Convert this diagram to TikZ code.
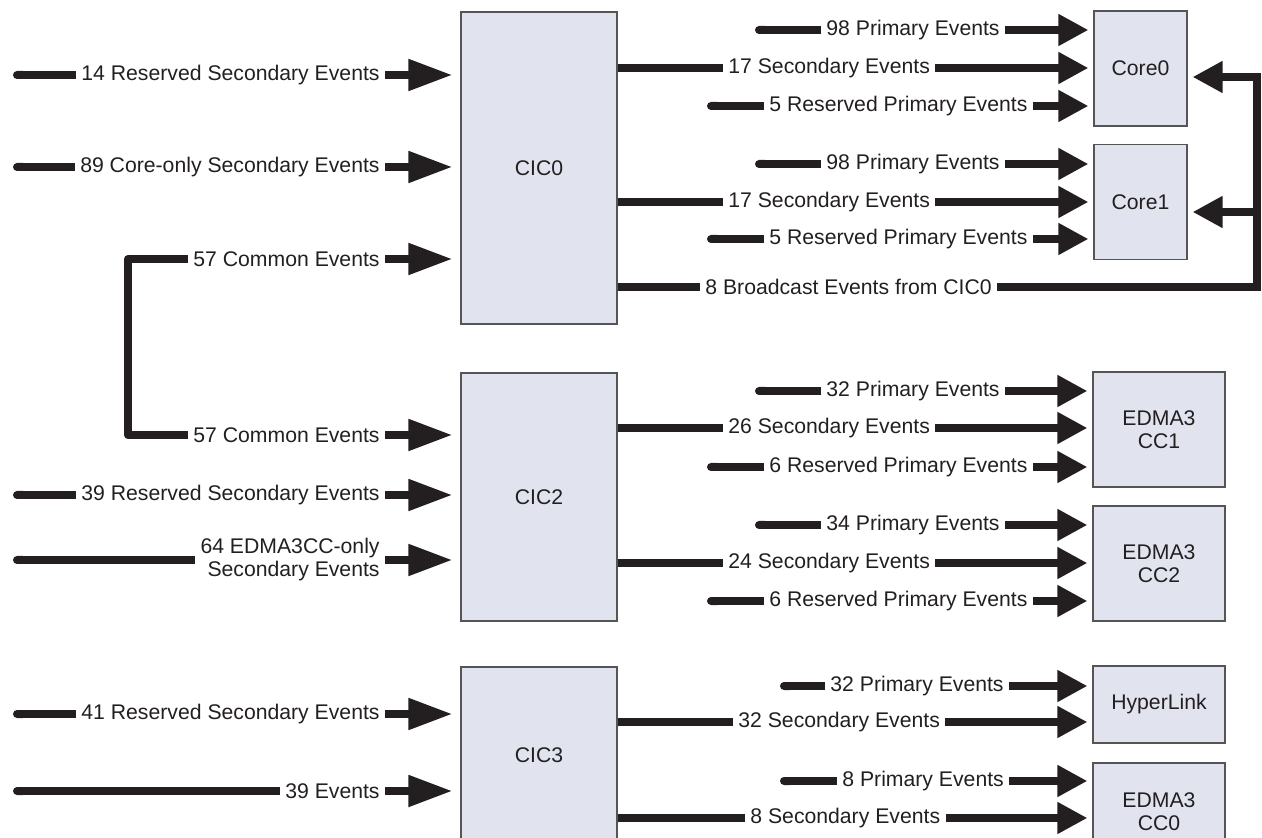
\documentclass[tikz,border=0pt]{standalone}
\usepackage{fontspec}
\setmainfont{Liberation Sans}
\usetikzlibrary{arrows.meta, positioning, calc}
\definecolor{ink}{RGB}{35,31,32}
\definecolor{blkfill}{RGB}{225,228,239}
\definecolor{blkline}{RGB}{85,85,85}

\begin{document}
\begin{tikzpicture}[x=0.5pt, y=-0.5pt,
    every node/.style={font=\fontsize{10.6}{11.5}\selectfont, text=ink},
    blk/.style={draw=blkline, fill=blkfill, line width=0.6pt, align=center, inner sep=0pt},
    lbl/.style={inner xsep=2.5pt, inner ysep=0pt, align=right},
    wire/.style={draw=ink, line width=4pt, line join=round},
    feed/.style={wire, -{Round Cap[]}},
    inarr/.style={wire, -{Triangle[length=22pt, width=15pt]}, shorten >=4pt},
    outarr/.style={wire, -{Triangle[length=15pt, width=15pt]}, shorten >=2.5pt}]

    \useasboundingbox (0,0) rectangle (1262,838);
    \clip (0,0) rectangle (1262,838);

    % columns where the free lines start
    \coordinate (edge) at (13,0);
    \coordinate (bend) at (128,0);
    \coordinate (colR) at (707,0);
    \coordinate (colP) at (755,0);
    \coordinate (colH) at (780,0);
    \coordinate (b0) at (1257,77);
    \coordinate (b1) at (1257,212);

    % Controllers
    \node[blk, minimum width=78pt, minimum height=156pt] (cic0) at (539,168) {CIC0};
    \node[blk, minimum width=78pt, minimum height=124pt] (cic2) at (539,497) {CIC2};
    \node[blk, minimum width=78pt, minimum height=88pt] (cic3) at (539,755) {CIC3};

    % Targets
    \node[blk, minimum width=46.5pt, minimum height=57.5pt] (core0) at (1140.5,68.5) {Core0};
    \node[blk, minimum width=46.5pt, minimum height=57.5pt] (core1) at (1140.5,202) {Core1};
    \node[blk, minimum width=66pt, minimum height=57.5pt] (cc1) at (1159,429.5) {EDMA3\\CC1};
    \node[blk, minimum width=66pt, minimum height=57.5pt] (cc2) at (1159,563.5) {EDMA3\\CC2};
    \node[blk, minimum width=66pt, minimum height=38.5pt] (hyper) at (1159,704.5) {HyperLink};
    \node[blk, minimum width=66pt, minimum height=49pt] (cc0) at (1159,812) {EDMA3\\CC0};

    % Inputs to CIC0
    \node[lbl, anchor=east] (r14) at (385,75) {14 Reserved Secondary Events};
    \node[lbl, anchor=east] (c89) at (385,167) {89 Core-only Secondary Events};
    \node[lbl, anchor=east] (c57a) at (385,259) {57 Common Events};
    \draw[feed] (r14.west) -- (r14.west -| edge);
    \draw[feed] (c89.west) -- (c89.west -| edge);
    \draw[inarr] (r14.east) -- (r14.east -| cic0.west);
    \draw[inarr] (c89.east) -- (c89.east -| cic0.west);
    \draw[inarr] (c57a.east) -- (c57a.east -| cic0.west);

    % Inputs to CIC2
    \node[lbl, anchor=east] (c57b) at (385,435) {57 Common Events};
    \node[lbl, anchor=east] (r39) at (385,495) {39 Reserved Secondary Events};
    \node[lbl, anchor=east] (e64) at (385,560) {64 EDMA3CC-only\\Secondary Events};
    \draw[wire] (c57a.west) -- (c57a.west -| bend) -- (c57b.west -| bend) -- (c57b.west);
    \draw[feed] (r39.west) -- (r39.west -| edge);
    \draw[feed] (e64.west) -- (e64.west -| edge);
    \draw[inarr] (c57b.east) -- (c57b.east -| cic2.west);
    \draw[inarr] (r39.east) -- (r39.east -| cic2.west);
    \draw[inarr] (e64.east) -- (e64.east -| cic2.west);

    % Inputs to CIC3
    \node[lbl, anchor=east] (r41) at (385,714) {41 Reserved Secondary Events};
    \node[lbl, anchor=east] (e39) at (385,791) {39 Events};
    \draw[feed] (r41.west) -- (r41.west -| edge);
    \draw[feed] (e39.west) -- (e39.west -| edge);
    \draw[inarr] (r41.east) -- (r41.east -| cic3.west);
    \draw[inarr] (e39.east) -- (e39.east -| cic3.west);

    % Core0 and Core1
    \node[lbl, anchor=west] (p0) at (821,30) {98 Primary Events};
    \node[lbl, anchor=west] (s0) at (723,68) {17 Secondary Events};
    \node[lbl, anchor=west] (q0) at (764,106) {5 Reserved Primary Events};
    \node[lbl, anchor=west] (p1) at (821,164) {98 Primary Events};
    \node[lbl, anchor=west] (s1) at (723,202) {17 Secondary Events};
    \node[lbl, anchor=west] (q1) at (764,239) {5 Reserved Primary Events};
    \node[lbl, anchor=west] (bc) at (700,287) {8 Broadcast Events from CIC0};
    \draw[feed] (p0.west) -- (p0.west -| colP);
    \draw[feed] (q0.west) -- (q0.west -| colR);
    \draw[feed] (p1.west) -- (p1.west -| colP);
    \draw[feed] (q1.west) -- (q1.west -| colR);
    \draw[wire] (cic0.east |- s0) -- (s0.west);
    \draw[wire] (cic0.east |- s1) -- (s1.west);
    \draw[wire] (cic0.east |- bc) -- (bc.west);
    \draw[outarr] (p0.east) -- (p0.east -| core0.west);
    \draw[outarr] (s0.east) -- (s0.east -| core0.west);
    \draw[outarr] (q0.east) -- (q0.east -| core0.west);
    \draw[outarr] (p1.east) -- (p1.east -| core1.west);
    \draw[outarr] (s1.east) -- (s1.east -| core1.west);
    \draw[outarr] (q1.east) -- (q1.east -| core1.west);
    \draw[outarr, line join=miter] (bc.east) -| (b0) -- (b0 -| core0.east);
    \draw[outarr] (b1) -- (b1 -| core1.east);

    % EDMA3 CC1 and CC2
    \node[lbl, anchor=west] (p2) at (821,391) {32 Primary Events};
    \node[lbl, anchor=west] (s2) at (723,428) {26 Secondary Events};
    \node[lbl, anchor=west] (q2) at (764,467) {6 Reserved Primary Events};
    \node[lbl, anchor=west] (p3) at (821,525) {34 Primary Events};
    \node[lbl, anchor=west] (s3) at (723,563) {24 Secondary Events};
    \node[lbl, anchor=west] (q3) at (764,601) {6 Reserved Primary Events};
    \draw[feed] (p2.west) -- (p2.west -| colP);
    \draw[feed] (q2.west) -- (q2.west -| colR);
    \draw[feed] (p3.west) -- (p3.west -| colP);
    \draw[feed] (q3.west) -- (q3.west -| colR);
    \draw[wire] (cic2.east |- s2) -- (s2.west);
    \draw[wire] (cic2.east |- s3) -- (s3.west);
    \draw[outarr] (p2.east) -- (p2.east -| cc1.west);
    \draw[outarr] (s2.east) -- (s2.east -| cc1.west);
    \draw[outarr] (q2.east) -- (q2.east -| cc1.west);
    \draw[outarr] (p3.east) -- (p3.east -| cc2.west);
    \draw[outarr] (s3.east) -- (s3.east -| cc2.west);
    \draw[outarr] (q3.east) -- (q3.east -| cc2.west);

    % HyperLink and EDMA3 CC0
    \node[lbl, anchor=west] (p4) at (825,686) {32 Primary Events};
    \node[lbl, anchor=west] (s4) at (733,722) {32 Secondary Events};
    \node[lbl, anchor=west] (p5) at (837,781) {8 Primary Events};
    \node[lbl, anchor=west] (s5) at (745,818) {8 Secondary Events};
    \draw[feed] (p4.west) -- (p4.west -| colH);
    \draw[feed] (p5.west) -- (p5.west -| colH);
    \draw[wire] (cic3.east |- s4) -- (s4.west);
    \draw[wire] (cic3.east |- s5) -- (s5.west);
    \draw[outarr] (p4.east) -- (p4.east -| hyper.west);
    \draw[outarr] (s4.east) -- (s4.east -| hyper.west);
    \draw[outarr] (p5.east) -- (p5.east -| cc0.west);
    \draw[outarr] (s5.east) -- (s5.east -| cc0.west);
\end{tikzpicture}
\end{document}
